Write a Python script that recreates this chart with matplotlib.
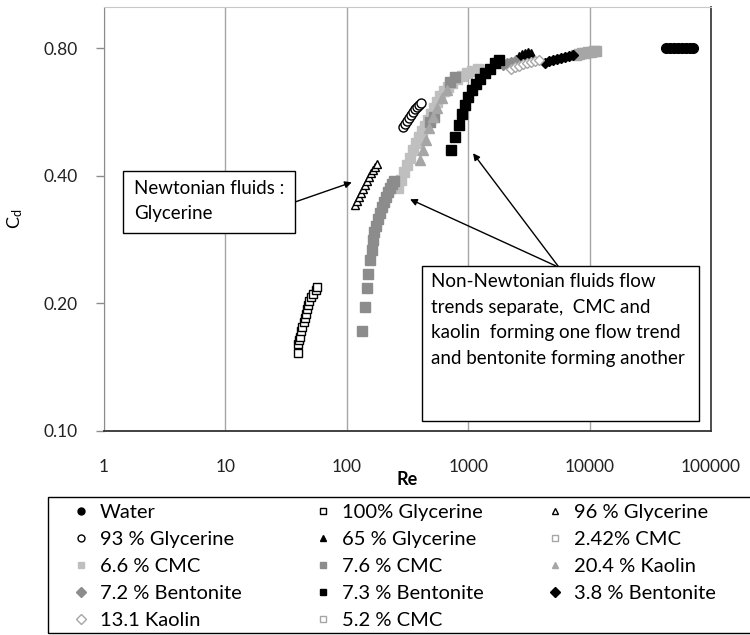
import matplotlib
matplotlib.use('Agg')
import matplotlib.pyplot as plt
from matplotlib.patches import Rectangle
from matplotlib.lines import Line2D

plt.rcParams['font.family'] = ['Lato', 'DejaVu Sans']

################## data (Re, Cd) ##################
water_re = [42600, 45900, 49600, 53500, 57700, 62200, 67100, 71100]
water_cd = [0.80, 0.80, 0.80, 0.80, 0.80, 0.80, 0.80, 0.80]

gly100_re = [39.4, 39.9, 40.4, 41.2, 42.0, 43.0, 44.2, 45.0, 45.9, 46.8, 48.0, 49.2, 50.4, 53.0, 55.7, 57.1]
gly100_cd = [0.153, 0.160, 0.164, 0.167, 0.172, 0.176, 0.181, 0.185, 0.189, 0.194, 0.198, 0.203, 0.207, 0.211, 0.215, 0.218]

gly96_re = [116.8, 121.4, 126.0, 130.9, 135.9, 141.1, 146.6, 152.3, 158.1, 164.2, 170.6, 177.2]
gly96_cd = [0.341, 0.348, 0.356, 0.364, 0.372, 0.380, 0.388, 0.397, 0.406, 0.412, 0.419, 0.426]

gly93_re = [290, 301, 313, 325, 338, 351, 365, 379, 393, 408]
gly93_cd = [0.521, 0.529, 0.538, 0.547, 0.556, 0.565, 0.574, 0.580, 0.587, 0.593]

gly65_re = [2477, 2621, 2774, 2937, 3110, 3291]
gly65_cd = [0.749, 0.761, 0.770, 0.774, 0.778, 0.774]

cmc242_re = [7730, 8186, 8657, 9163]
cmc242_cd = [0.770, 0.774, 0.778, 0.778]

cmc66_re = [264, 279, 296, 313, 332, 351, 372, 393, 416, 441, 467, 494,
            523, 553, 586, 632, 682, 736, 809, 889, 977, 1074, 1204]
cmc66_cd = [0.374, 0.391, 0.408, 0.424, 0.440, 0.460, 0.477, 0.493, 0.510, 0.524, 0.541, 0.559,
            0.577, 0.596, 0.616, 0.633, 0.647, 0.661, 0.676, 0.687, 0.698, 0.706, 0.714]

cmc76_re = [132.7, 141.3, 145.9, 150.4, 155.3, 160.3, 164.3, 169.1, 174.0, 180.8, 187.7,
            194.9, 202.5, 210.2, 218.4, 226.8, 235.5, 244.6, 484, 523, 708, 778]
cmc76_cd = [0.172, 0.196, 0.217, 0.234, 0.253, 0.267, 0.282, 0.294, 0.304, 0.316, 0.326,
            0.337, 0.347, 0.356, 0.366, 0.374, 0.382, 0.388, 0.535, 0.550, 0.665, 0.683]

kao204_re = [401, 424, 449, 476, 513, 553, 608, 669]
kao204_cd = [0.435, 0.460, 0.485, 0.518, 0.550, 0.577, 0.610, 0.637]

ben72_re = [1935, 2088, 2253, 2430]
ben72_cd = [0.729, 0.737, 0.741, 0.745]

ben73_re = [722, 778, 840, 884, 941, 1002, 1069, 1159, 1251, 1375, 1513, 1663, 1794]
ben73_cd = [0.460, 0.494, 0.527, 0.559, 0.587, 0.614, 0.637, 0.660, 0.678, 0.697, 0.716, 0.736, 0.749]

ben38_re = [4293, 4634, 5000, 5386, 5808, 6266, 6761, 7295]
ben38_cd = [0.737, 0.745, 0.749, 0.753, 0.757, 0.761, 0.766, 0.770]

kao131_re = [2253, 2430, 2621, 2828, 3050, 3291, 3550, 3830]
kao131_cd = [0.714, 0.721, 0.725, 0.733, 0.737, 0.741, 0.745, 0.749]

cmc52_re = [9700, 10280, 10860, 11290]
cmc52_cd = [0.782, 0.782, 0.787, 0.787]

yticks = [0.10, 0.20, 0.40, 0.80]
xticks = [1, 10, 100, 1000, 10000, 100000]

fig = plt.figure(figsize=(7.5, 6.35), dpi=100)
ax = fig.add_axes([104/750, 1-431/635, 607/750, 424/635])

# (label, x, y, marker, face, edge, size)
series = [
    ('Water', water_re, water_cd, 'o', 'black', 'black', 7),
    ('100% Glycerine', gly100_re, gly100_cd, 's', 'white', 'black', 6),
    ('96 % Glycerine', gly96_re, gly96_cd, '^', 'white', 'black', 6),
    ('93 % Glycerine', gly93_re, gly93_cd, 'o', 'white', 'black', 6.5),
    ('65 % Glycerine', gly65_re, gly65_cd, '^', 'black', 'black', 7),
    ('2.42% CMC', cmc242_re, cmc242_cd, 's', '#A6A6A6', '#A6A6A6', 6.5),
    ('6.6 % CMC', cmc66_re, cmc66_cd, 's', '#BFBFBF', '#BFBFBF', 6.5),
    ('7.6 % CMC', cmc76_re, cmc76_cd, 's', '#8C8C8C', '#8C8C8C', 6.5),
    ('20.4 % Kaolin', kao204_re, kao204_cd, '^', '#A6A6A6', '#A6A6A6', 6.5),
    ('7.2 % Bentonite', ben72_re, ben72_cd, 'D', '#8C8C8C', '#8C8C8C', 5.5),
    ('7.3 % Bentonite', ben73_re, ben73_cd, 's', 'black', 'black', 6.5),
    ('3.8 % Bentonite', ben38_re, ben38_cd, 'D', 'black', 'black', 5.5),
    ('13.1 Kaolin', kao131_re, kao131_cd, 'D', 'white', '#A6A6A6', 5.5),
    ('5.2 % CMC', cmc52_re, cmc52_cd, 's', '#A6A6A6', '#A6A6A6', 6.5),
]
# legend swatches of the open grey squares
leg_face = {'2.42% CMC': 'white', '5.2 % CMC': 'white'}

handles = []
for lab, xs, ys, mk, fc, ec, ms in series:
    ax.plot(xs, ys, ls='none', marker=mk, mfc=fc, mec=ec, ms=ms, mew=1, zorder=3)
    handles.append(Line2D([], [], ls='none', marker=mk, mfc=leg_face.get(lab, fc), mec=ec,
                          ms=5, mew=1, label=lab))

ax.set_xscale('log')
ax.set_yscale('log', base=2)
ax.set_xlim(1, 100000)
ax.set_ylim(0.1, 1.0)
ax.set_xticks(xticks)
ax.set_xticklabels([str(v) for v in xticks])
ax.set_yticks(yticks)
ax.set_yticklabels(['%.2f' % v for v in yticks])
ax.minorticks_off()
ax.tick_params(axis='x', length=0, pad=20, labelsize=12.5, labelcolor='#222222')
ax.tick_params(axis='y', length=6, width=1, color='#8C8C8C', pad=13, labelsize=12.5, labelcolor='#222222')
ax.grid(axis='x', color='#A6A6A6', lw=1)
ax.set_axisbelow(True)
ax.spines['left'].set_color('#8C8C8C')
ax.spines['bottom'].set_color('#333333')
ax.spines['bottom'].set_linewidth(1.3)
ax.spines['top'].set_color('#C8C8C8')
ax.spines['right'].set_color('#404040')
ax.spines['right'].set_linewidth(1.3)

ax.set_xlabel('Re', fontsize=13, fontweight='bold', labelpad=-3)
ax.set_ylabel(r'$\mathregular{C_d}$', fontsize=13, labelpad=13)

# annotation boxes
fig.add_artist(Rectangle((123/750, 1-233/635), 172/750, 62/635, transform=fig.transFigure,
                         facecolor='white', edgecolor='black', lw=1, zorder=5))
fig.text(134/750, 1-201/635, 'Newtonian fluids :\nGlycerine', fontsize=13.5,
         va='center', ha='left', linespacing=1.55, zorder=6)

fig.add_artist(Rectangle((422/750, 1-421/635), 277/750, 155/635, transform=fig.transFigure,
                         facecolor='white', edgecolor='black', lw=1, zorder=5))
fig.text(431/750, 1-273/635,
         'Non-Newtonian fluids flow\ntrends separate,  CMC and\nkaolin  forming one flow trend\nand bentonite forming another',
         fontsize=13.5, va='top', ha='left', linespacing=1.62, zorder=6)

arrow = dict(arrowstyle='-|>', color='black', lw=1, mutation_scale=10, shrinkA=0, shrinkB=0)
ax.annotate('', xy=(110, 0.386), xycoords='data', xytext=(295/750, 1-202/635),
            textcoords='figure fraction', arrowprops=arrow)
ax.annotate('', xy=(332, 0.352), xycoords='data', xytext=(556/750, 1-266/635),
            textcoords='figure fraction', arrowprops=arrow)
ax.annotate('', xy=(1096, 0.452), xycoords='data', xytext=(558/750, 1-266/635),
            textcoords='figure fraction', arrowprops=arrow)

# legend: frame plus three equal-width columns, filled row by row
fig.add_artist(Rectangle((48/750, 1-633/635), 706/750, 136/635, transform=fig.transFigure,
                         facecolor='white', edgecolor='black', lw=1, zorder=5))
col_x = [73, 315, 547]
for c in range(3):
    hs = handles[c::3]
    fig.legend(hs, [h.get_label() for h in hs], loc='upper left',
               bbox_to_anchor=(col_x[c]/750, 1-504/635), fontsize=14.5, frameon=False,
               handlelength=0.8, handletextpad=0.55, labelspacing=0.49,
               borderpad=0, borderaxespad=0)

fig.savefig('out.png', dpi=100)
